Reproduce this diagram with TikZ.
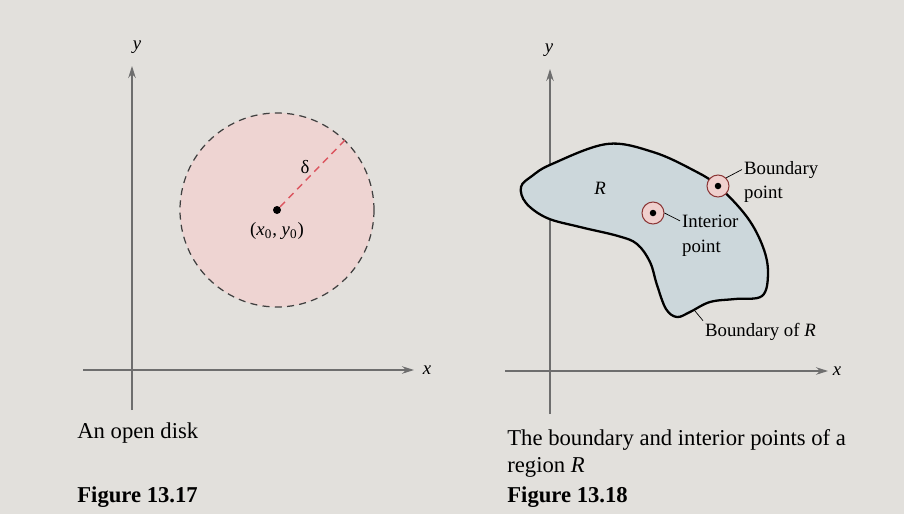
\documentclass[tikz,border=0pt]{standalone}
\usepackage{fontspec}
\setmainfont{Liberation Serif}
\usetikzlibrary{positioning,arrows.meta}
\definecolor{paper}{RGB}{226,224,220}
\definecolor{axisgray}{RGB}{110,110,110}
\definecolor{diskpink}{RGB}{238,212,210}
\definecolor{radiusred}{RGB}{220,85,95}
\definecolor{regionblue}{RGB}{204,215,219}
\definecolor{ringpink}{RGB}{240,208,206}
\definecolor{ringred}{RGB}{140,55,55}

\begin{document}
\begin{tikzpicture}[
    x=0.02cm, y=-0.02cm,
    axis/.style={
        axisgray,
        line width=0.6pt,
        -{Stealth[length=2.4mm,width=1.5mm]}
    },
    lbl/.style={
        font=\fontsize{10.7}{13}\selectfont,
        inner sep=1pt
    },
    captxt/.style={
        font=\fontsize{12.9}{16}\selectfont,
        anchor=base west,
        inner sep=0pt
    },
    ring/.style={
        circle,
        draw=ringred,
        fill=ringpink,
        line width=0.6pt,
        minimum size=0.44cm,
        inner sep=0pt
    },
    dot/.style={
        circle,
        fill=black,
        inner sep=0pt,
        minimum size=0.13cm
    },
    leader/.style={
        black,
        line width=0.4pt
    }
]

% ============================================================
% PAPER
% ============================================================

\fill[paper] (0,0) rectangle (904,514);
\useasboundingbox (0,0) rectangle (904,514);

% ============================================================
% FIGURE 13.17 — AN OPEN DISK
% ============================================================

\coordinate (ybotA) at (132,410);
\coordinate (ytopA) at (132,66);
\coordinate (xlftA) at (83,370);
\coordinate (xrgtA) at (414,370);

\draw[axis] (ybotA) -- (ytopA);
\draw[axis] (xlftA) -- (xrgtA);
\node[lbl] (ylblA) at (137,47) {\textit{y}};
\node[lbl] (xlblA) at (427,370) {\textit{x}};

% the disk
\fill[diskpink] (277,210) circle (97);
\draw[black!75, dashed, dash pattern=on 4pt off 3pt, line width=0.7pt] (277,210) circle (97);

\node[dot, minimum size=0.16cm] (ctr) at (277,210) {};
\coordinate (rim) at (345,140);
\draw[radiusred, dashed, dash pattern=on 4pt off 3pt, line width=0.8pt] (ctr) -- (rim);

\node[lbl] (delta) at (305,167) {δ};
\node[lbl] (ctrlbl) at (277,231) {(\textit{x}\textsubscript{0}, \textit{y}\textsubscript{0})};

% ============================================================
% FIGURE 13.18 — REGION R
% ============================================================

\coordinate (ybotB) at (550,414);
\coordinate (ytopB) at (550,69);
\coordinate (xlftB) at (505,371);
\coordinate (xrgtB) at (828,371);

\draw[axis] (ybotB) -- (ytopB);
\draw[axis] (xlftB) -- (xrgtB);
\node[lbl] (ylblB) at (549,50) {\textit{y}};
\node[lbl] (xlblB) at (837,371) {\textit{x}};

% the region
\filldraw[fill=regionblue, draw=black, line width=1.3pt]
    plot[smooth cycle, tension=0.6] coordinates {
        (521,187) (532,176) (552,164) (607,144) (653,152) (693,170)
        (718,186) (747,217) (763,247) (768,273) (762,296) (735,299)
        (710,302) (690,312) (677,317) (666,309) (657,285) (650,262)
        (637,244) (618,236) (580,227) (547,218) (526,203)
    };

\node[lbl, font=\fontsize{10.7}{13}\selectfont\itshape] (rlbl) at (600,188) {R};

% interior point
\node[ring] (iring) at (653,213) {};
\node[dot] (idot) at (653,213) {};
\node[lbl, anchor=base west] (ilblA) at (680,227) {Interior};
\node[lbl, anchor=base west] (ilblB) at (680,252) {point};
\draw[leader] (iring.east) -- (ilblA.west);

% boundary point
\node[ring] (bring) at (718,186) {};
\node[dot] (bdot) at (718,186) {};
\node[lbl, anchor=base west] (blblA) at (742,174) {Boundary};
\node[lbl, anchor=base west] (blblB) at (742,198) {point};
\draw[leader] (bring.north east) -- (blblA.west);

% boundary of R
\coordinate (bdry) at (695,311);
\node[lbl, anchor=base west] (bRlbl) at (703,336) {Boundary of \textit{R}};
\draw[leader] (bdry) -- (bRlbl.north west);

% ============================================================
% CAPTIONS
% ============================================================

\node[captxt] (capA) at (77,438) {An open disk};
\node[captxt] (figA) at (77,502) {\textbf{Figure 13.17}};

\node[captxt] (capB1) at (507,445) {The boundary and interior points of a};
\node[captxt] (capB2) at (507,472) {region \textit{R}};
\node[captxt] (figB) at (507,502) {\textbf{Figure 13.18}};

\end{tikzpicture}
\end{document}
